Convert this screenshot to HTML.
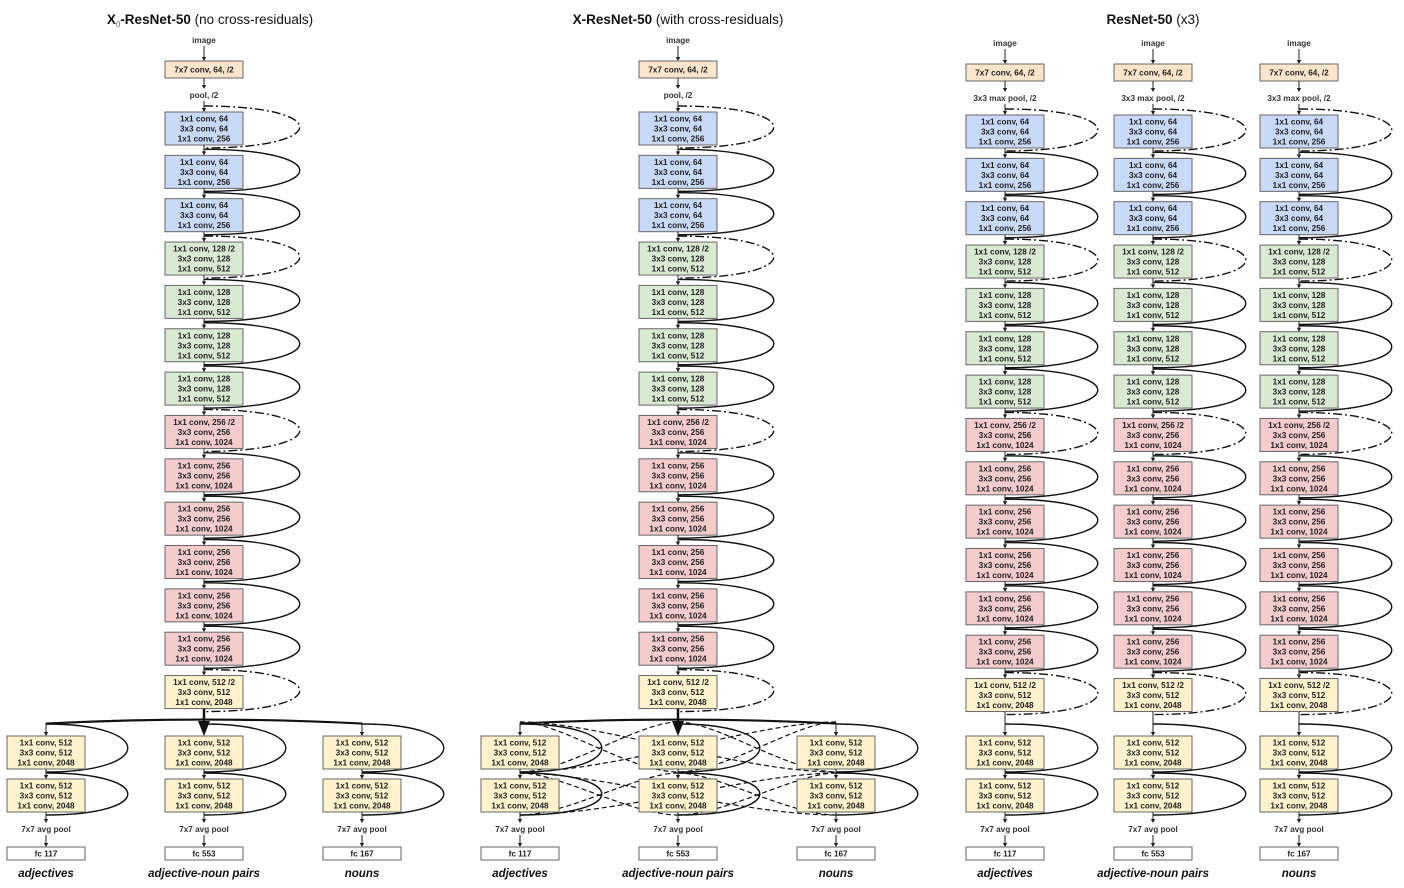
<!DOCTYPE html>
<html><head><meta charset="utf-8">
<style>
html,body{margin:0;padding:0;background:#fff;}
svg{display:block;font-family:"Liberation Sans",Arial,sans-serif;}
.bt{font-size:8.2px;font-weight:bold;fill:#222;text-anchor:middle;}
.lt{font-size:8.2px;font-weight:bold;fill:#333;text-anchor:middle;}
</style></head>
<body>
<svg id="fig" width="1404" height="888" viewBox="0 0 1404 888" xmlns="http://www.w3.org/2000/svg">
</svg>
<script>
const stageColors = ['#c9daf8','#d9ead3','#f4cccc','#fff2cc'];
const blockStages = [0,0,0,1,1,1,1,2,2,2,2,2,2,3];
const stageWidths = [64,128,256,512];
const stageOut = [256,512,1024,2048];
const branchNames = ['adjectives','adjective-noun pairs','nouns'];
const fcSizes = [117,553,167];
const NS='http://www.w3.org/2000/svg';
const svg=document.getElementById('fig');
const BW=78,BH=33,PITCH=43.35;

function mk(tag,attrs,name,parent){
  const e=document.createElementNS(NS,tag);
  for(const k in attrs)e.setAttribute(k,attrs[k]);
  
  
  (parent||svg).appendChild(e);return e;
}
function text(x,y,s,cls,name,extra){
  const t=mk('text',Object.assign({x:x,y:y,class:cls},extra||{}),name);t.textContent=s;return t;
}
function arrow(x,y1,y2,name){
  mk('line',{x1:x,y1:y1,x2:x,y2:y2-3,stroke:'#222','stroke-width':1},name);
  mk('path',{d:`M${x-2.2},${y2-4} L${x+2.2},${y2-4} L${x},${y2} Z`,fill:'#222'},name+'-head');
}
function arc(cx,y1,y2,xr,dashed,name,w){
  const k=cx+1.33*(xr-cx);
  mk('path',{d:`M${cx},${y1} C${k},${y1} ${k},${y2} ${cx},${y2}`,fill:'none',stroke:'#111','stroke-width':w||1.4,'stroke-dasharray':dashed?'9,3,2,3':'none'},name);
}
function box(cx,y,h,fill,lines,name){
  const g=mk('g',{},name);
  mk('rect',{x:cx-BW/2,y:y,width:BW,height:h,fill:fill,stroke:'#666','stroke-width':1},name+'-rect',g);
  const n=lines.length;
  lines.forEach((l,i)=>{
    const t=document.createElementNS(NS,'text');
    t.setAttribute('x',cx);
    t.setAttribute('y',y+h/2+(i-(n-1)/2)*10+3);
    t.setAttribute('class','bt');
    
    
    t.textContent=l;g.appendChild(t);
  });
}
function blockLines(i){
  const s=blockStages[i];const down=s>0&&blockStages[i-1]!==s;
  return ['1x1 conv, '+stageWidths[s]+(down?' /2':''),'3x3 conv, '+stageWidths[s],'1x1 conv, '+stageOut[s]];
}
function isFirst(i){return i===0||blockStages[i-1]!==blockStages[i];}

function trunk(cx,top0,stemY,poolLabel,arcW,prefix){
  text(cx,43+(stemY-61),'image','lt',prefix+'-image-label');
  arrow(cx,46+(stemY-61),stemY,prefix+'-arrow-image');
  box(cx,stemY,17,'#fce5cd',['7x7 conv, 64, /2'],prefix+'-stem-conv');
  arrow(cx,stemY+17,stemY+28,prefix+'-arrow-stem');
  text(cx,stemY+37,poolLabel,'lt',prefix+'-pool-label');
  arrow(cx,stemY+40,top0,prefix+'-arrow-pool');
  for(let i=0;i<blockStages.length;i++){
    const y=top0+i*PITCH;
    arc(cx,y-6,y+BH+3,cx+BW/2+arcW,isFirst(i),prefix+'-skip-'+i);
  }
  for(let i=0;i<blockStages.length;i++){
    const y=top0+i*PITCH;
    box(cx,y,BH,stageColors[blockStages[i]],blockLines(i),prefix+'-block-'+(i+1));
    if(i<blockStages.length-1)arrow(cx,y+BH,y+PITCH,prefix+'-arrow-'+i);
  }
  return top0+(blockStages.length-1)*PITCH+BH;
}
const B1=736,B2=779;
function branch(bx,arcW,prefix,idx,skipArcs){
  if(skipArcs){
    arc(bx,B1-12,B1+BH+3,bx+BW/2+arcW,false,prefix+'-skip-a');
    arc(bx,B2-6,B2+BH+3,bx+BW/2+arcW,false,prefix+'-skip-b');
  }
  box(bx,B1,BH,stageColors[3],['1x1 conv, 512','3x3 conv, 512','1x1 conv, 2048'],prefix+'-block-a');
  arrow(bx,B1+BH,B2,prefix+'-arrow-ab');
  box(bx,B2,BH,stageColors[3],['1x1 conv, 512','3x3 conv, 512','1x1 conv, 2048'],prefix+'-block-b');
  arrow(bx,B2+BH,823,prefix+'-arrow-pool');
  text(bx,832,'7x7 avg pool','lt',prefix+'-avgpool-label');
  arrow(bx,835,847,prefix+'-arrow-fc');
  box(bx,847,13,'#fff',['fc '+fcSizes[idx]],prefix+'-fc');
  text(bx,877,branchNames[idx],'lt',prefix+'-task-label',{style:'font-size:11.5px;font-style:italic;fill:#111'});
}
function title(cx,bold,sub,normal,name){
  const t=mk('text',{x:cx,y:24,'text-anchor':'middle','font-size':'13.5px',fill:'#111'},name);
  const a=document.createElementNS(NS,'tspan');a.setAttribute('font-weight','bold');a.textContent=bold;t.appendChild(a);
  if(sub){const s=document.createElementNS(NS,'tspan');s.setAttribute('font-size','8px');s.setAttribute('dy','3');s.setAttribute('fill','#666');s.textContent=sub;t.appendChild(s);
    const b0=document.createElementNS(NS,'tspan');b0.setAttribute('font-weight','bold');b0.setAttribute('dy','-3');b0.textContent='-ResNet-50';t.appendChild(b0);}
  const b=document.createElementNS(NS,'tspan');b.textContent=' '+normal;t.appendChild(b);
}
function fan(cx,bxs,bottom,prefix){
  bxs.forEach((bx,i)=>{
    if(bx===cx)return;
    mk('path',{d:`M${cx},${bottom+11} Q${(cx+bx)/2},${bottom+11} ${bx},${bottom+15}`,fill:'none',stroke:'#111','stroke-width':2.2},prefix+'-fan-'+i);
    arrow(bx,bottom+14,B1,prefix+'-fan-arrow-'+i);
  });
  mk('line',{x1:cx,y1:bottom,x2:cx,y2:B1-14,stroke:'#111','stroke-width':2.5},prefix+'-main-arrow');
  mk('path',{d:`M${cx-6},${B1-15} L${cx+6},${B1-15} L${cx},${B1} Z`,fill:'#111'},prefix+'-main-arrow-head');
}
function cross(bxs,prefix){
  [[B1,0],[B2,1]].forEach(([y,l])=>{
    bxs.forEach((xi,i)=>bxs.forEach((xj,j)=>{
      if(i===j)return;
      const y1=y-(l?6:14),y2=y+BH+3;
      mk('path',{d:`M${xi},${y1} C${xi+(xj-xi)*0.25},${y1} ${xj-(xj-xi)*0.3},${y2} ${xj},${y2}`,fill:'none',stroke:'#111','stroke-width':1.2,'stroke-dasharray':'5,3'},prefix+'-cross-'+l+'-'+i+'-'+j);
    }));
  });
}

title(210,'X','0','(no cross-residuals)','title-x0-resnet');
let bot=trunk(204,112,61,'pool, /2',57,'p1');
branch(46,43,'p1-adjectives',0,true);
branch(204,43,'p1-anp',1,true);
branch(362,43,'p1-nouns',2,true);
fan(204,[46,204,362],bot,'p1');

title(678,'X-ResNet-50','', '(with cross-residuals)','title-x-resnet');
bot=trunk(678,112,61,'pool, /2',57,'p2');
cross([520,678,836],'p2');
branch(520,43,'p2-adjectives',0,true);
branch(678,43,'p2-anp',1,true);
branch(836,43,'p2-nouns',2,true);
fan(678,[520,678,836],bot,'p2');

title(1153,'ResNet-50','','(x3)','title-resnet-x3');
[1005,1153,1299].forEach((cx,i)=>{
  const p='p3-col'+(i+1);
  const b=trunk(cx,115,64,'3x3 max pool, /2',54,p);
  arrow(cx,b,B1,p+'-arrow-to-branch');
  branch(cx,54,p+'-head',i,true);
});
</script>
</body></html>
